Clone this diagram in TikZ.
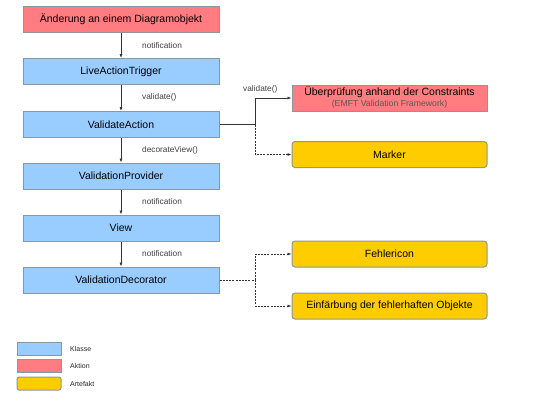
\documentclass[tikz,border=0pt]{standalone}
\usepackage{fontspec}
\setmainfont{Liberation Sans}
\usetikzlibrary{arrows.meta}
\definecolor{klasseblau}{RGB}{153,204,255}
\definecolor{aktionrot}{RGB}{255,124,128}
\definecolor{artefaktgelb}{RGB}{255,204,0}
\definecolor{rahmen}{RGB}{140,150,160}
\tikzset{
	box/.style={draw=rahmen,line width=1pt,minimum height=26pt,inner sep=0pt,font=\fontsize{10.5}{11}\selectfont},
	klasse/.style={box,fill=klasseblau,minimum width=196pt},
	aktion/.style={box,fill=aktionrot,minimum width=196pt},
	artefakt/.style={box,fill=artefaktgelb,minimum width=195pt,rounded corners=3pt},
	legende/.style={draw=rahmen,line width=1pt,minimum width=44pt,minimum height=13pt,inner sep=0pt},
	lbl/.style={anchor=west,text=black!75,font=\fontsize{8.3}{9}\selectfont,inner sep=0pt},
	leglbl/.style={lbl,text=black!85,font=\fontsize{7}{8}\selectfont},
	arr/.style={-{Latex[length=4pt,width=3pt]},line width=0.7pt,black!80},
	punkt/.style={dash pattern=on 2pt off 1.2pt}
}
\begin{document}
\begin{tikzpicture}[x=1pt,y=-1pt]
			\useasboundingbox (0,0) rectangle (550,413);
			
			% Hauptkette
			\node[aktion] (aenderung) at (121,19.5) {Änderung an einem Diagramobjekt};
			\node[klasse] (trigger) at (121,71.5) {LiveActionTrigger};
			\node[klasse] (action) at (121,124.5) {ValidateAction};
			\node[klasse] (provider) at (121,176) {ValidationProvider};
			\node[klasse] (view) at (121,228) {View};
			\node[klasse] (decorator) at (121,280) {ValidationDecorator};
			
			\draw[arr] (aenderung) -- (trigger);
			\draw[arr] (trigger) -- (action);
			\draw[arr] (action) -- (provider);
			\draw[arr] (provider) -- (view);
			\draw[arr] (view) -- (decorator);
			
			\node[lbl] (l1) at (142,46) {notification};
			\node[lbl] (l2) at (142,97.5) {validate()};
			\node[lbl] (l3) at (142,150) {decorateView()};
			\node[lbl] (l4) at (142,202) {notification};
			\node[lbl] (l5) at (142,254) {notification};
			
			% rechte Seite
			\node[aktion,minimum width=195pt,align=center] (pruefung) at (389.5,98) {Überprüfung anhand der Constraints\\{\fontsize{8.7}{11}\selectfont\color{black!65}(EMFT Validation Framework)}};
			\node[artefakt] (marker) at (389.5,154.5) {Marker};
			\node[artefakt] (icon) at (389.5,254) {Fehlericon};
			\node[artefakt] (faerbung) at (389.5,306) {Einfärbung der fehlerhaften Objekte};
			
			\coordinate (split1) at (255,124.5);
			\coordinate (split2) at (255,280);
			\draw[arr] (action.east) -- (split1) |- (pruefung.west);
			\draw[arr,punkt] (split1) |- (marker.west);
			\node[lbl] (l6) at (243,89) {validate()};
			\draw[line width=0.7pt,black!80,punkt] (decorator.east) -- (split2);
			\draw[arr,punkt] (split2) |- (icon.west);
			\draw[arr,punkt] (split2) |- (faerbung.west);
			
			% Legende
			\node[legende,fill=klasseblau] (lk) at (39,348.5) {};
			\node[legende,fill=aktionrot] (la) at (39,366) {};
			\node[legende,fill=artefaktgelb,rounded corners=2pt] (lf) at (39,383.5) {};
			\node[leglbl] (tk) at (70,348.5) {Klasse};
			\node[leglbl] (ta) at (70,366) {Aktion};
			\node[leglbl] (tf) at (70,383.5) {Artefakt};
			
		\end{tikzpicture}
\end{document}
